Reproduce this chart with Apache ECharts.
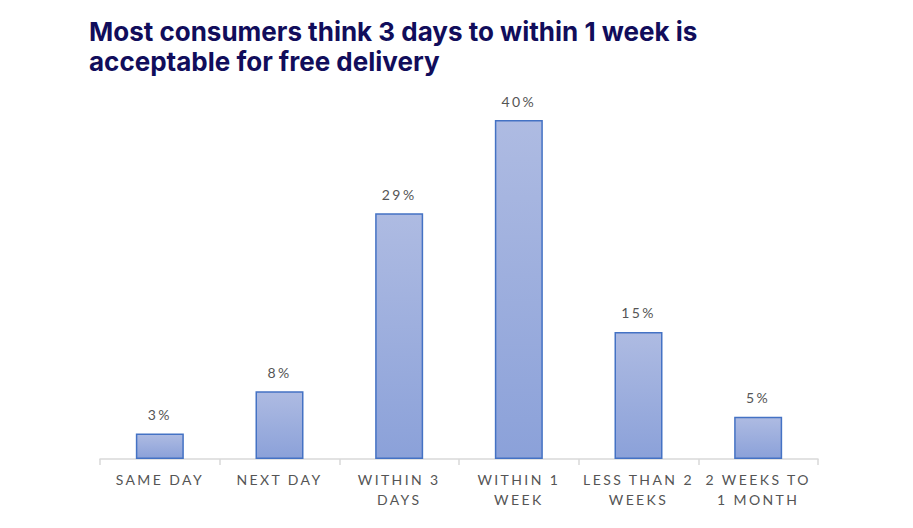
<!DOCTYPE html>
<html>
<head>
<meta charset="utf-8">
<script src="https://cdn.jsdelivr.net/npm/echarts@6/dist/echarts.min.js"></script>
<style>
  html, body { margin: 0; padding: 0; background: #fff; }
  #chart { width: 913px; height: 528px; }
  /* the category and value labels are set in Lato with wide tracking */
  #chart text[style*="Lato"] { letter-spacing: 2.4px; }
</style>
</head>
<body>
<div id="chart"></div>
<script>
const categories = ['SAME DAY', 'NEXT DAY', 'WITHIN 3\nDAYS', 'WITHIN 1\nWEEK', 'LESS THAN 2\nWEEKS', '2 WEEKS TO\n1 MONTH'];
const shares = [3, 8, 29, 40, 15, 5];
const titleText = 'Most consumers think 3 days to within 1 week is\nacceptable for free delivery';

const chart = echarts.init(document.getElementById('chart'), null, { renderer: 'svg' });

const options = {
  animation: false,
  title: {
    text: titleText,
    left: 84,
    top: 11,
    textStyle: {
      fontFamily: 'Inter',
      fontWeight: 700,
      fontSize: 26,
      lineHeight: 30,
      color: '#110d5b'
    }
  },
  grid: { left: 100, right: 95, top: 120, bottom: 69 },
  xAxis: {
    type: 'category',
    data: categories,
    axisLine: { lineStyle: { color: '#d9d9d9', width: 1.5 } },
    axisTick: { show: true, alignWithLabel: false, length: 6, lineStyle: { color: '#d9d9d9', width: 1.5 } },
    axisLabel: {
      interval: 0,
      margin: 10,
      fontFamily: 'Lato',
      fontSize: 14,
      lineHeight: 20,
      color: '#555555'
    }
  },
  yAxis: {
    type: 'value',
    min: 0,
    max: 40,
    show: false
  },
  series: [{
    type: 'bar',
    data: shares,
    barWidth: 48,
    itemStyle: {
      color: new echarts.graphic.LinearGradient(0, 0, 0, 1, [
        { offset: 0, color: '#aebbe2' },
        { offset: 1, color: '#8ba1d9' }
      ]),
      borderColor: '#4472c4',
      borderWidth: 1.5
    },
    label: {
      show: true,
      position: 'top',
      distance: 12,
      formatter: '{c}%',
      fontFamily: 'Lato',
      fontSize: 14,
      color: '#555555'
    }
  }]
};

chart.setOption(options);
</script>
</body>
</html>
